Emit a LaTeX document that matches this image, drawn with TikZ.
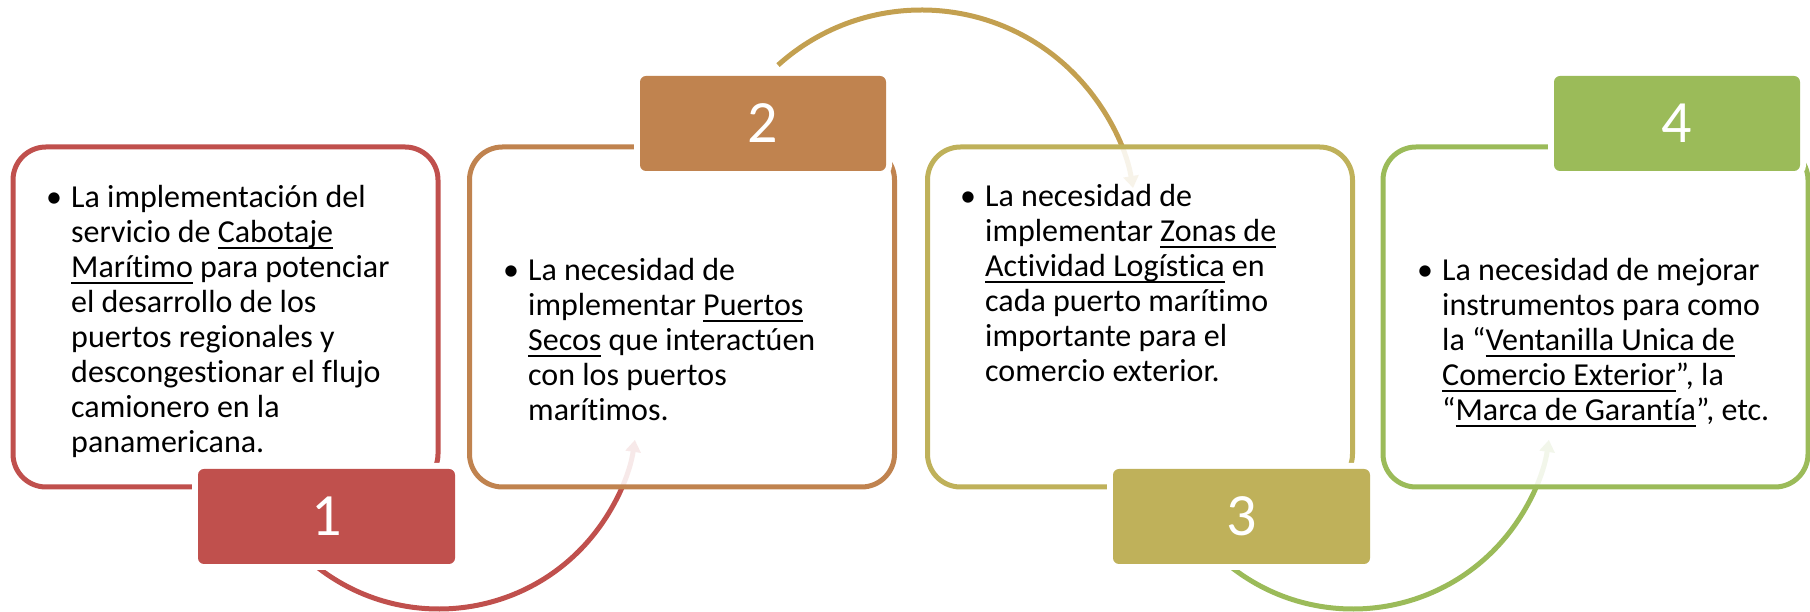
\documentclass[tikz,border=0pt]{standalone}
\usepackage{fontspec}
\setmainfont{Carlito}[Ligatures={NoCommon}]
\usetikzlibrary{arrows.meta}
\definecolor{cA}{HTML}{C0504D}
\definecolor{cB}{HTML}{C0834F}
\definecolor{cC}{HTML}{BFB15A}
\definecolor{cD}{HTML}{9BBB59}
\definecolor{cAB}{HTML}{C0504D}
\definecolor{cBC}{HTML}{C3A050}
\definecolor{cCD}{HTML}{9BBB59}
\newcommand\undl[1]{\setbox0\hbox{#1}\rlap{\rule[-6.5pt]{\wd0}{2.3pt}}\box0\relax}
\newcommand\bul{\llap{\hbox to 34pt{\hss•\hss}}}
\tikzset{
  panel/.style={draw=#1, line width=5pt, fill=white, fill opacity=0.88,
    rounded corners=33pt, minimum width=425pt, minimum height=340pt, inner sep=0pt},
  numbox/.style={fill=#1, rounded corners=6pt, preaction={draw=white, line width=12pt},
    minimum height=95pt, inner sep=0pt, text=white, font=\fontsize{60}{72}\selectfont},
  bodytext/.style={anchor=base west, inner sep=0pt, font=\fontsize{32}{35}\selectfont},
  flow/.style={draw=#1, line width=5pt, -{Triangle[width=15pt,length=12pt]}},
}
\begin{document}
\begin{tikzpicture}[x=1pt,y=1pt]
\useasboundingbox (0,0) rectangle (1810,612);
% centres of the connecting arcs
\coordinate (o12) at (439,201);
\coordinate (o23) at (921.6,387.4);
\coordinate (o34) at (1353,201);
% connectors
\draw[flow=cAB] (o12) ++(-128:198) arc[start angle=-128, end angle=-8.4, radius=198];
\draw[flow=cBC] (o23) ++(132:214.6) arc[start angle=132, end angle=9.8, radius=214.6];
\draw[flow=cCD] (o34) ++(-128:198) arc[start angle=-128, end angle=-8.4, radius=198];
% panels
\node[panel=cA] (p1) at (225.5,295) {};
\node[panel=cB] (p2) at (682,295) {};
\node[panel=cC] (p3) at (1140,295) {};
\node[panel=cD] (p4) at (1595.5,295) {};
% number boxes
\node[numbox=cA, minimum width=257pt] (n1) at (326.5,95.5) {1};
\node[numbox=cB, minimum width=246pt] (n2) at (763,488.5) {2};
\node[numbox=cC, minimum width=257pt] (n3) at (1241.5,95.5) {3};
\node[numbox=cD, minimum width=246pt] (n4) at (1677,488.5) {4};
% texts
\node[bodytext] (t1) at (71,404) {\vtop{%
  \hbox{\bul La implementación del}
  \hbox{servicio de \undl{Cabotaje}}
  \hbox{\undl{Marítimo} para potenciar}
  \hbox{el desarrollo de los}
  \hbox{puertos regionales y}
  \hbox{descongestionar el flujo}
  \hbox{camionero en la}
  \hbox{panamericana.}}};
\node[bodytext] (t2) at (528,331) {\vtop{%
  \hbox{\bul La necesidad de}
  \hbox{implementar \undl{Puertos}}
  \hbox{\undl{Secos} que interactúen}
  \hbox{con los puertos}
  \hbox{marítimos.}}};
\node[bodytext] (t3) at (985,405) {\vtop{%
  \hbox{\bul La necesidad de}
  \hbox{implementar \undl{Zonas de}}
  \hbox{\undl{Actividad Logística} en}
  \hbox{cada puerto marítimo}
  \hbox{importante para el}
  \hbox{comercio exterior.}}};
\node[bodytext] (t4) at (1442,331) {\vtop{%
  \hbox{\bul La necesidad de mejorar}
  \hbox{instrumentos para como}
  \hbox{la “\undl{Ventanilla Unica de}}
  \hbox{\undl{Comercio Exterior}”, la}
  \hbox{“\undl{Marca de Garantía}”, etc.}}};
\end{tikzpicture}
\end{document}
